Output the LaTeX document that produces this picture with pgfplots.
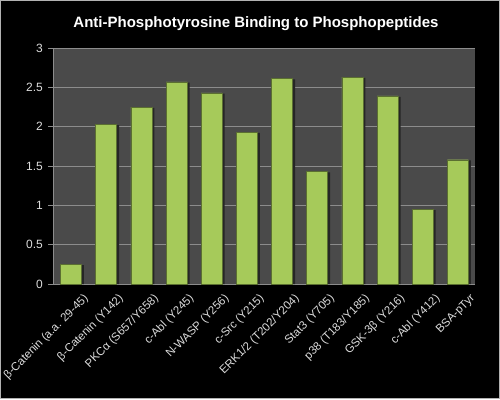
\documentclass[border=0pt]{standalone}
\usepackage{pgfplots}
\pgfplotsset{compat=1.18}
\usepackage{fontspec}
\setmainfont{Liberation Sans}
\definecolor{bg}{HTML}{4A4A4A}
\definecolor{barg}{HTML}{A6CA5A}
\definecolor{txt}{HTML}{DCDCDC}
\definecolor{gridc}{HTML}{8C8C8C}
\begin{document}
\begin{tikzpicture}[x=1pt,y=1pt]
\fill[black] (-71,-115) rectangle (429,284);
\draw[gray!60,line width=0.8] (-70.6,-114.6) rectangle (428.6,283.6);
\begin{axis}[
  at={(0,0)}, anchor=origin,
  scale only axis, width=422pt, height=236pt,
  xmin=-0.5, xmax=11.5, ymin=0, ymax=3,
  ytick={0,0.5,...,3},
  yticklabels={0,0.5,1,1.5,2,2.5,3},
  axis background/.style={fill=bg},
  axis line style={gridc, line width=0.8},
  axis x line*=bottom, axis y line*=left,
  ymajorgrids, grid style={gridc, line width=0.6},
  tick align=outside,
  ytick style={gridc, line width=0.8},
  major tick length=5pt,
  xtick=data,
  xtick style={draw=none},
  minor xtick={-0.5,0.5,...,11.5},
  minor tick length=4pt,
  minor x tick style={gridc,line width=0.8},
  xticklabels={{β-Catenin (a.a. 29-45)},{β-Catenin (Y142)},{PKCα (S657/Y658)},{c-Abl (Y245)},{N-WASP (Y256)},{c-Src (Y215)},{ERK1/2 (T202/Y204)},{Stat3 (Y705)},{p38 (T183/Y185)},{GSK-3β (Y216)},{c-Abl (Y412)},{BSA-pTyr}},
  x tick label style={rotate=45, anchor=north east, font=\fontsize{11.5}{13}\selectfont, text=txt, inner sep=1pt, xshift=6.5pt, yshift=-10pt},
  y tick label style={font=\fontsize{12}{14}\selectfont, text=txt, xshift=-2pt},
  /pgf/number format/assume math mode=true,
  title={\bfseries Anti-Phosphotyrosine Binding to Phosphopeptides},
  title style={font=\fontsize{15}{18}\selectfont, text=white, at={(0.48,1)}, anchor=south, yshift=8pt},
  ybar, bar width=21pt,
]
\addplot[fill=black!85, draw=none, bar shift=2.5pt, forget plot] coordinates {
(0,0.24) (1,2.02) (2,2.24) (3,2.56) (4,2.42) (5,1.92) (6,2.60) (7,1.42) (8,2.62) (9,2.38) (10,0.94) (11,1.57)};
\addplot[fill=barg, draw=barg!55!black, line width=0.4, bar shift=0pt] coordinates {
(0,0.25) (1,2.03) (2,2.25) (3,2.57) (4,2.43) (5,1.93) (6,2.61) (7,1.43) (8,2.63) (9,2.39) (10,0.95) (11,1.58)};
\end{axis}
\end{tikzpicture}
\end{document}
